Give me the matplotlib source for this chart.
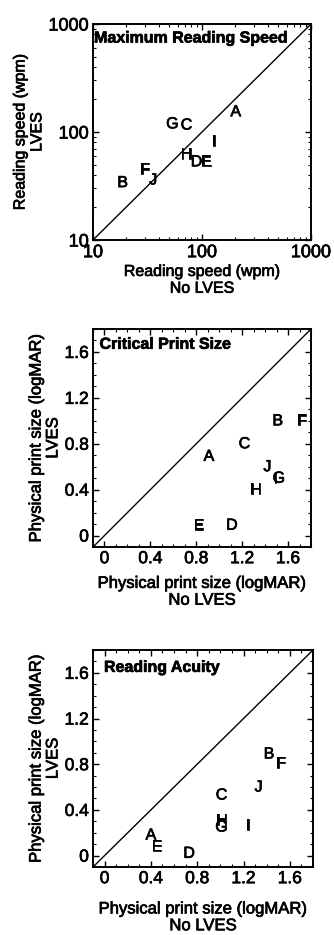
import matplotlib
matplotlib.use("Agg")
import matplotlib.pyplot as plt
import matplotlib.patheffects as pe
from matplotlib.ticker import MultipleLocator, FuncFormatter, LogLocator, NullFormatter

plt.rcParams["font.family"] = ["Liberation Sans", "DejaVu Sans"]

letters = ["A", "B", "C", "D", "E", "F", "G", "H", "I", "J"]

# Maximum reading speed (wpm): No LVES vs LVES
speed_no = [204, 18.7, 72, 89, 109, 30, 53.5, 72, 129, 35.7]
speed_lves = [154, 34, 116, 53, 53, 45, 119, 62.5, 81, 36]

# Critical print size (logMAR)
cps_no = [0.91, 1.51, 1.22, 1.11, 0.82, 1.72, 1.52, 1.32, 1.49, 1.42]
cps_lves = [0.69, 1.00, 0.80, 0.09, 0.09, 1.00, 0.50, 0.40, 0.50, 0.60]

# Reading acuity (logMAR)
ra_no = [0.40, 1.42, 1.01, 0.73, 0.45, 1.52, 1.01, 1.01, 1.24, 1.33]
ra_lves = [0.18, 0.89, 0.53, 0.02, 0.08, 0.81, 0.25, 0.31, 0.26, 0.60]

fig = plt.figure(figsize=(3.34, 9.35), dpi=100)

W, H = 334.0, 935.0
heavy = [pe.withStroke(linewidth=0.5, foreground="black")]


def make_axes(left, top, right, bottom):
    return fig.add_axes([left / W, 1 - bottom / H, (right - left) / W, (bottom - top) / H])


def style(ax, labelsize):
    for s in ax.spines.values():
        s.set_linewidth(1.4)
    ax.tick_params(which="both", direction="in", top=True, right=True)
    ax.tick_params(which="major", length=4, width=1, labelsize=labelsize, pad=3)
    ax.tick_params(which="minor", length=2, width=0.8)
    for t in ax.get_xticklabels() + ax.get_yticklabels():
        t.set_path_effects(heavy)


def place_letters(ax, xs, ys):
    for lab, x, y in zip(letters, xs, ys):
        ax.text(x, y, lab, ha="center", va="center", fontsize=11.5, path_effects=heavy)


def labels(ax, xtext, ytext, size, xpad):
    ax.set_xlabel(xtext, fontsize=size, labelpad=xpad, linespacing=1.15, path_effects=heavy)
    ax.set_ylabel(ytext, fontsize=size, labelpad=3, linespacing=1.15, path_effects=heavy)


# panel 1
ax1 = make_axes(93, 24, 311, 240)
ax1.set_xscale("log")
ax1.set_yscale("log")
ax1.set_xlim(10, 1000)
ax1.set_ylim(10, 1000)
ax1.plot([10, 1000], [10, 1000], color="black", lw=1)
place_letters(ax1, speed_no, speed_lves)
ax1.xaxis.set_major_locator(LogLocator(base=10, numticks=5))
ax1.yaxis.set_major_locator(LogLocator(base=10, numticks=5))
fmt_log = FuncFormatter(lambda v, p: f"{v:g}")
ax1.xaxis.set_major_formatter(fmt_log)
ax1.yaxis.set_major_formatter(fmt_log)
ax1.xaxis.set_minor_formatter(NullFormatter())
ax1.yaxis.set_minor_formatter(NullFormatter())
style(ax1, 13)
ax1.text(0.005, 0.935, "Maximum Reading Speed", transform=ax1.transAxes,
         ha="left", va="center", fontsize=11.5, fontweight="bold", path_effects=heavy)
labels(ax1, "Reading speed (wpm)\nNo LVES", "Reading speed (wpm)\nLVES", 11.5, 2)

fmt_lin = FuncFormatter(lambda v, p: "0" if abs(v) < 1e-9 else f"{v:.1f}")


def lin_panel(ax, xs, ys, title, title_x, title_y, xpad):
    ax.set_xlim(-0.1, 1.8)
    ax.set_ylim(-0.1, 1.8)
    ax.plot([-0.1, 1.8], [-0.1, 1.8], color="black", lw=1)
    place_letters(ax, xs, ys)
    for axis in (ax.xaxis, ax.yaxis):
        axis.set_major_locator(MultipleLocator(0.4))
        axis.set_minor_locator(MultipleLocator(0.1))
        axis.set_major_formatter(fmt_lin)
    style(ax, 12.5)
    ax.text(title_x, title_y, title, transform=ax.transAxes,
            ha="left", va="center", fontsize=11.5, fontweight="bold", path_effects=heavy)
    labels(ax, "Physical print size (logMAR)\nNo LVES",
           "Physical print size (logMAR)\nLVES", 12, xpad)


ax2 = make_axes(93, 329, 311, 547)
lin_panel(ax2, cps_no, cps_lves, "Critical Print Size", 0.03, 0.93, 7)

ax3 = make_axes(93, 650, 313, 867)
lin_panel(ax3, ra_no, ra_lves, "Reading Acuity", 0.05, 0.92, 11)

fig.savefig("out.png", dpi=100)
